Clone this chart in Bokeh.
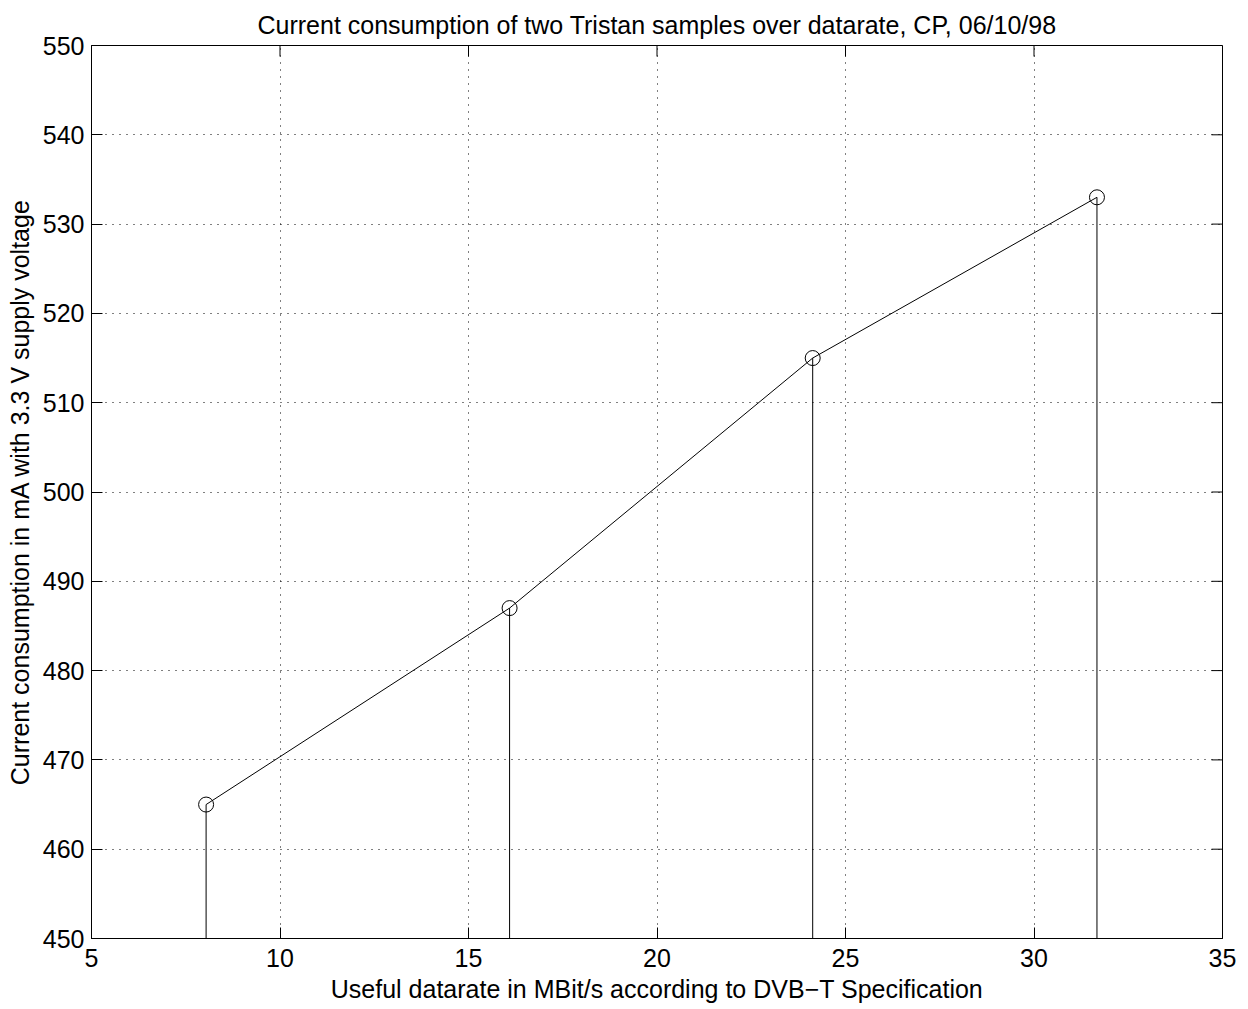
from bokeh.plotting import figure
from bokeh.models import Range1d, FixedTicker
from bokeh.embed import file_html
from bokeh.resources import INLINE

# Data
datarate = [8.04, 16.09, 24.13, 31.67]          # MBit/s
current = [465, 487, 515, 533]                  # mA
y_base = 450
x_ticks = [5, 10, 15, 20, 25, 30, 35]
y_ticks = [450, 460, 470, 480, 490, 500, 510, 520, 530, 540, 550]

FONT = "Liberation Sans"
FS = "25px"
X0, X1, Y0, Y1 = 5, 35, 450, 550
FW, FH = 1131, 893
TICK = 11  # px, inward tick length

p = figure(frame_width=FW, frame_height=FH,
           x_range=Range1d(X0, X1), y_range=Range1d(Y0, Y1),
           output_backend="svg", toolbar_location=None,
           min_border_left=91, min_border_right=18,
           min_border_top=45, min_border_bottom=71,
           background_fill_color="white", border_fill_color="white")

p.title.text = "Current consumption of two Tristan samples over datarate, CP, 06/10/98"
p.title.align = "center"
p.title.text_font = FONT
p.title.text_font_size = FS
p.title.text_font_style = "normal"
p.title.text_color = "black"
p.title.standoff = 14

p.outline_line_color = "black"
p.outline_line_width = 1
p.outline_line_alpha = 1

for ax in (p.xaxis[0], p.yaxis[0]):
    ax.major_tick_in = TICK
    ax.major_tick_out = 0
    ax.minor_tick_in = 0
    ax.minor_tick_out = 0
    ax.axis_line_color = "black"
    ax.major_tick_line_color = "black"
    ax.major_label_text_font = FONT
    ax.major_label_text_font_size = FS
    ax.major_label_text_color = "black"
    ax.axis_label_text_font = FONT
    ax.axis_label_text_font_size = FS
    ax.axis_label_text_font_style = "normal"
    ax.axis_label_text_color = "black"

p.xaxis[0].ticker = FixedTicker(ticks=x_ticks)
p.yaxis[0].ticker = FixedTicker(ticks=y_ticks)
p.xaxis[0].axis_label = "Useful datarate in MBit/s according to DVB\u2212T Specification"
p.yaxis[0].axis_label = "Current consumption in mA with 3.3 V supply voltage"
p.xaxis[0].major_label_standoff = 10
p.yaxis[0].major_label_standoff = 7
p.xaxis[0].axis_label_standoff = 5
p.yaxis[0].axis_label_standoff = 6

for g in (p.xgrid[0], p.ygrid[0]):
    g.grid_line_color = "black"
    g.grid_line_dash = "1 6"
    g.grid_line_width = 1
    g.grid_line_alpha = 1
p.xgrid[0].ticker = FixedTicker(ticks=x_ticks)
p.ygrid[0].ticker = FixedTicker(ticks=y_ticks)

# mirrored inward ticks on top and right edges (box style)
ty = TICK * (Y1 - Y0) / FH
tx = TICK * (X1 - X0) / FW
p.segment(x0=x_ticks, y0=[Y1] * len(x_ticks), x1=x_ticks, y1=[Y1 - ty] * len(x_ticks),
          line_color="black", line_width=1)
p.segment(x0=[X1] * len(y_ticks), y0=y_ticks, x1=[X1 - tx] * len(y_ticks), y1=y_ticks,
          line_color="black", line_width=1)

# stems
p.segment(x0=datarate, y0=[y_base] * len(datarate), x1=datarate, y1=current,
          line_color="black", line_width=1)
# line
p.line(datarate, current, line_color="black", line_width=1)
# markers
p.scatter(datarate, current, marker="circle", size=15, fill_color=None,
          line_color="black", line_width=1)

open("out.html", "w").write(file_html(p, INLINE))
